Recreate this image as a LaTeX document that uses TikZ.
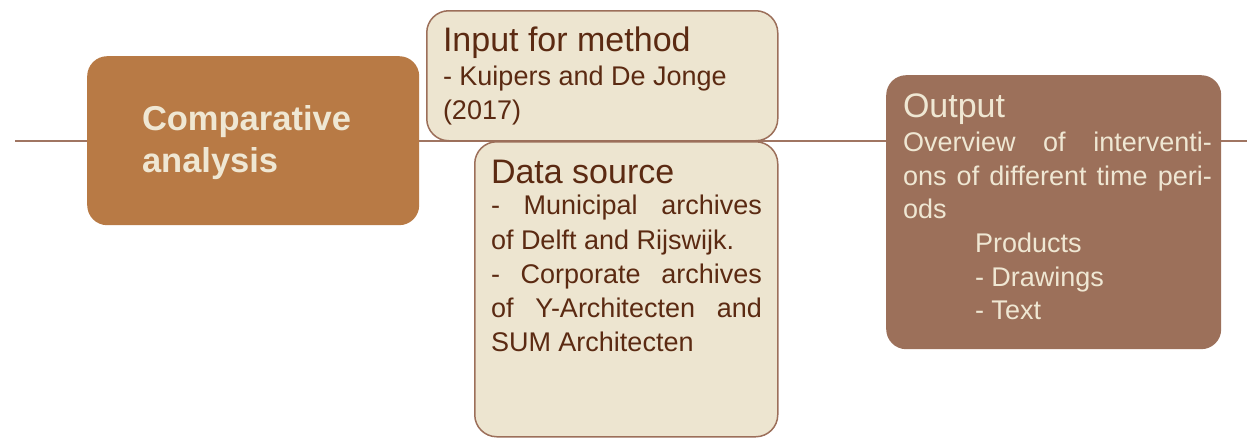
\documentclass[tikz,border=0pt]{standalone}
\usepackage{fontspec}
\setmainfont{Liberation Sans}
\definecolor{lineC}{HTML}{A07562}
\definecolor{compC}{HTML}{B87A45}
\definecolor{lightC}{HTML}{EDE5D0}
\definecolor{borderC}{HTML}{9C6F5A}
\definecolor{outC}{HTML}{9C705A}
\definecolor{darkT}{HTML}{5B2A12}
\definecolor{paleT}{HTML}{EFE7D3}
\tikzset{
  box/.style={anchor=north west, inner sep=0pt, rounded corners=22pt},
  lightbox/.style={box, fill=lightC, draw=borderC, line width=1.5pt},
  txt/.style={anchor=base west, inner sep=0pt, outer sep=0pt},
  title/.style={txt, font=\fontsize{34}{40}\selectfont},
  body/.style={txt, font=\fontsize{27}{33}\selectfont},
}
\begin{document}
\begin{tikzpicture}[x=1pt,y=-1pt]
\useasboundingbox (0,0) rectangle (1247,439);
% horizontal axis
\coordinate (L) at (15,141);
\coordinate (R) at (1247,141);
\draw[lineC, line width=1.5pt] (L) -- (R);
% comparative analysis
\node[box, fill=compC, rounded corners=20pt, minimum width=332pt, minimum height=169pt] (comp) at (87,56) {};
\node[txt, text=paleT, font=\fontsize{34.5}{40}\bfseries\selectfont] (compA) at (142,130) {Comparative};
\node[txt, text=paleT, font=\fontsize{34.5}{40}\bfseries\selectfont] (compB) at (142,172) {analysis};
% input for method
\node[lightbox, minimum width=351pt, minimum height=130pt] (inp) at (426,10) {};
\node[title, text=darkT] (inpT) at (443,51) {Input for method};
\node[body, text=darkT] (inp1) at (443,85) {- Kuipers and De Jonge};
\node[body, text=darkT] (inp2) at (443,119) {(2017)};
% data source
\node[lightbox, minimum width=303pt, minimum height=295pt] (dat) at (474,141) {};
\node[title, text=darkT] (datT) at (491,183) {Data source};
\node[body, text=darkT] (dat1) at (491,214) {\makebox[271pt][s]{- Municipal archives}};
\node[body, text=darkT] (dat2) at (491,249) {of Delft and Rijswijk.};
\node[body, text=darkT] (dat3) at (491,283) {\makebox[271pt][s]{- Corporate archives}};
\node[body, text=darkT] (dat4) at (491,317) {\makebox[271pt][s]{of Y-Architecten and}};
\node[body, text=darkT] (dat5) at (491,351) {SUM Architecten};
% output
\node[box, fill=outC, rounded corners=20pt, minimum width=335pt, minimum height=274pt] (out) at (886,75) {};
\node[title, text=paleT] (outT) at (903,117) {Output};
\node[body, text=paleT] (out1) at (903,151) {\makebox[309pt][s]{Overview of interventi-}};
\node[body, text=paleT] (out2) at (903,185) {\makebox[309pt][s]{ons of different time peri-}};
\node[body, text=paleT] (out3) at (903,218) {ods};
\node[body, text=paleT] (out4) at (975,252) {Products};
\node[body, text=paleT] (out5) at (975,286) {- Drawings};
\node[body, text=paleT] (out6) at (975,319) {- Text};
\end{tikzpicture}
\end{document}
